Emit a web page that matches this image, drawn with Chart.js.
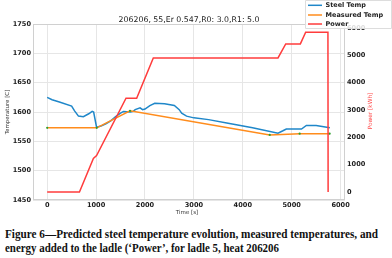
<!DOCTYPE html>
<html>
<head>
<meta charset="utf-8">
<script src="https://cdn.jsdelivr.net/npm/chart.js@4"></script>
<style>
  html, body { margin: 0; padding: 0; background: #fff; }
  #wrap { position: relative; width: 392px; height: 258px; overflow: hidden; }
  #chart-box { position: absolute; left: 0; top: 0; width: 392px; height: 222px; }
  .cap { position: absolute; left: 5px; white-space: nowrap; font-family: "Liberation Serif", serif;
         font-weight: bold; font-size: 12.8px; line-height: 14px; color: #111; transform-origin: 0 0; }
</style>
</head>
<body>
<div id="wrap">
  <div id="chart-box"><canvas id="ladle-chart" width="392" height="222"></canvas></div>
  <div class="cap" id="cap1" style="top:227px">Figure 6—Predicted steel temperature evolution, measured temperatures, and</div>
  <div class="cap" id="cap2" style="top:241px">energy added to the ladle (‘Power’, for ladle 5, heat 206206</div>
</div>
<script>
// values
const chartTitle = "206206, 55,Er 0.547,R0: 3.0,R1: 5.0";

const steelTime = [0, 100, 250, 500, 560, 640, 740, 850, 920, 950, 1010, 1100, 1200, 1300, 1400, 1500, 1560, 1700, 1760, 1800, 1900, 1950, 2000, 2100, 2200, 2400, 2600, 2700, 2750, 2850, 3000, 3300, 3700, 4200, 4720, 4820, 4890, 5100, 5200, 5300, 5500, 5780];
const steelTemp = [1625, 1621, 1617, 1610, 1602, 1593, 1592, 1597, 1601, 1600, 1574, 1576, 1580, 1585, 1592, 1598, 1601, 1600, 1601, 1604, 1607, 1604, 1605, 1611, 1615, 1614, 1611, 1604, 1598, 1593, 1590, 1587, 1581, 1573, 1564, 1568, 1571, 1571, 1571, 1577, 1577, 1573];

const measTime = [0, 1014, 1694, 4551, 5163, 5776];
const measTemp = [1573, 1573, 1602, 1561, 1563, 1563];

const powerTime = [0, 660, 945, 1010, 1612, 1830, 2170, 4720, 4878, 5177, 5286, 5741, 5745];
const powerKwh = [0, 0, 1230, 1330, 3430, 3430, 4900, 4900, 5415, 5415, 5843, 5843, 0];

const timeTicks = [0, 1000, 2000, 3000, 4000, 5000, 6000];
const tempTicks = [1450, 1500, 1550, 1600, 1650, 1700, 1750];
const powerTicks = [0, 1000, 2000, 3000, 4000, 5000, 6000];

const seriesNames = ["Steel Temp", "Measured Temp", "Power"];
const seriesColors = ["#1f87c9", "#ff8c1c", "#ff3c3c"];

function toPoints(xs, ys) {
    return xs.map((x, i) => ({ x: x, y: ys[i] }));
}

const tickFont = { family: "DejaVu Sans", size: 6.6, weight: "bold" };
const plainLabel = (value) => String(value);

// title, axis titles, frame and legend drawn on the canvas
const extras = {
    id: 'extras',
    afterDatasetsDraw(chart) {
        const ctx = chart.ctx;
        const a = chart.chartArea;
        ctx.save();
        ctx.strokeStyle = "#d0d0d0";
        ctx.lineWidth = 1;
        ctx.strokeRect(a.left + 0.5, a.top + 0.5, a.right - a.left - 1, a.bottom - a.top - 1);

        ctx.fillStyle = "#222";
        ctx.textAlign = "center";
        ctx.textBaseline = "middle";
        ctx.font = "7.8px 'DejaVu Sans'";
        ctx.fillText(chartTitle, (a.left + a.right) / 2, 20);

        ctx.font = "5.5px 'DejaVu Sans'";
        ctx.fillStyle = "#333";
        ctx.fillText("Time [s]", 187, 212.5);

        ctx.save();
        ctx.translate(8, 112);
        ctx.rotate(-Math.PI / 2);
        ctx.fillText("Temperature [C]", 0, 0);
        ctx.restore();

        ctx.save();
        ctx.translate(370, 111);
        ctx.rotate(-Math.PI / 2);
        ctx.fillStyle = "#ff4a4a";
        ctx.font = "5.8px 'DejaVu Sans'";
        ctx.fillText("Power [kWh]", 0, 0);
        ctx.restore();

        // legend
        ctx.fillStyle = "rgba(255,255,255,0.85)";
        ctx.strokeStyle = "#dddddd";
        ctx.beginPath();
        ctx.rect(305.5, 0.5, 86, 28);
        ctx.fill();
        ctx.stroke();
        const rows = [5.3, 15, 24];
        ctx.textAlign = "left";
        ctx.font = "bold 6.5px 'DejaVu Sans'";
        rows.forEach((y, i) => {
            ctx.strokeStyle = seriesColors[i];
            ctx.lineWidth = 1.5;
            ctx.beginPath();
            ctx.moveTo(308, y);
            ctx.lineTo(322, y);
            ctx.stroke();
            ctx.fillStyle = "#222";
            ctx.fillText(seriesNames[i], 325.5, y + 0.3);
        });
        ctx.restore();
    }
};

const ctx = document.getElementById('ladle-chart').getContext('2d');
const chart = new Chart(ctx, {
    type: 'line',
    data: {
        datasets: [
            {
                label: seriesNames[2],
                data: toPoints(powerTime, powerKwh),
                yAxisID: 'y1',
                borderColor: seriesColors[2],
                borderWidth: 1.5,
                pointRadius: 0,
                order: 0
            },
            {
                label: seriesNames[1],
                data: toPoints(measTime, measTemp),
                yAxisID: 'y',
                borderColor: seriesColors[1],
                borderWidth: 1.5,
                pointRadius: 1.1,
                pointBorderWidth: 0,
                pointBackgroundColor: "#2ca02c",
                order: 1
            },
            {
                label: seriesNames[0],
                data: toPoints(steelTime, steelTemp),
                yAxisID: 'y',
                borderColor: seriesColors[0],
                borderWidth: 1.5,
                pointRadius: 0,
                order: 2
            }
        ]
    },
    options: {
        responsive: false,
        animation: false,
        events: [],
        layout: { padding: { top: 24, left: 0, right: 0, bottom: 0 } },
        elements: { line: { tension: 0, fill: false } },
        plugins: { legend: { display: false }, tooltip: { enabled: false } },
        scales: {
            x: {
                type: 'linear',
                min: -290,
                max: 6090,
                afterBuildTicks: (s) => { s.ticks = timeTicks.map(v => ({ value: v })); },
                afterFit: (s) => { s.height = 22; },
                grid: { color: "#e6e6e6", drawTicks: false },
                border: { display: false },
                ticks: { font: tickFont, color: "#1a1a1a", padding: 1.5, maxRotation: 0, callback: plainLabel }
            },
            y: {
                position: 'left',
                min: 1450,
                max: 1750,
                afterBuildTicks: (s) => { s.ticks = tempTicks.map(v => ({ value: v })); },
                afterFit: (s) => { s.width = 33; },
                grid: { color: "#e6e6e6", drawTicks: false },
                border: { display: false },
                ticks: { font: tickFont, color: "#1a1a1a", padding: 2, callback: plainLabel }
            },
            y1: {
                position: 'right',
                min: -292,
                max: 6142,
                afterBuildTicks: (s) => { s.ticks = powerTicks.map(v => ({ value: v })); },
                afterFit: (s) => { s.width = 47; },
                grid: { display: false, drawTicks: false },
                border: { display: false },
                ticks: { font: tickFont, color: "#1a1a1a", padding: 2, callback: plainLabel }
            }
        }
    },
    plugins: [extras]
});

// squeeze caption lines to the measured widths
function fitCaption(id, target) {
    const el = document.getElementById(id);
    const w = el.getBoundingClientRect().width;
    el.style.transform = "scaleX(" + (target / w) + ")";
}
fitCaption('cap1', 373);
fitCaption('cap2', 274);
</script>
</body>
</html>
